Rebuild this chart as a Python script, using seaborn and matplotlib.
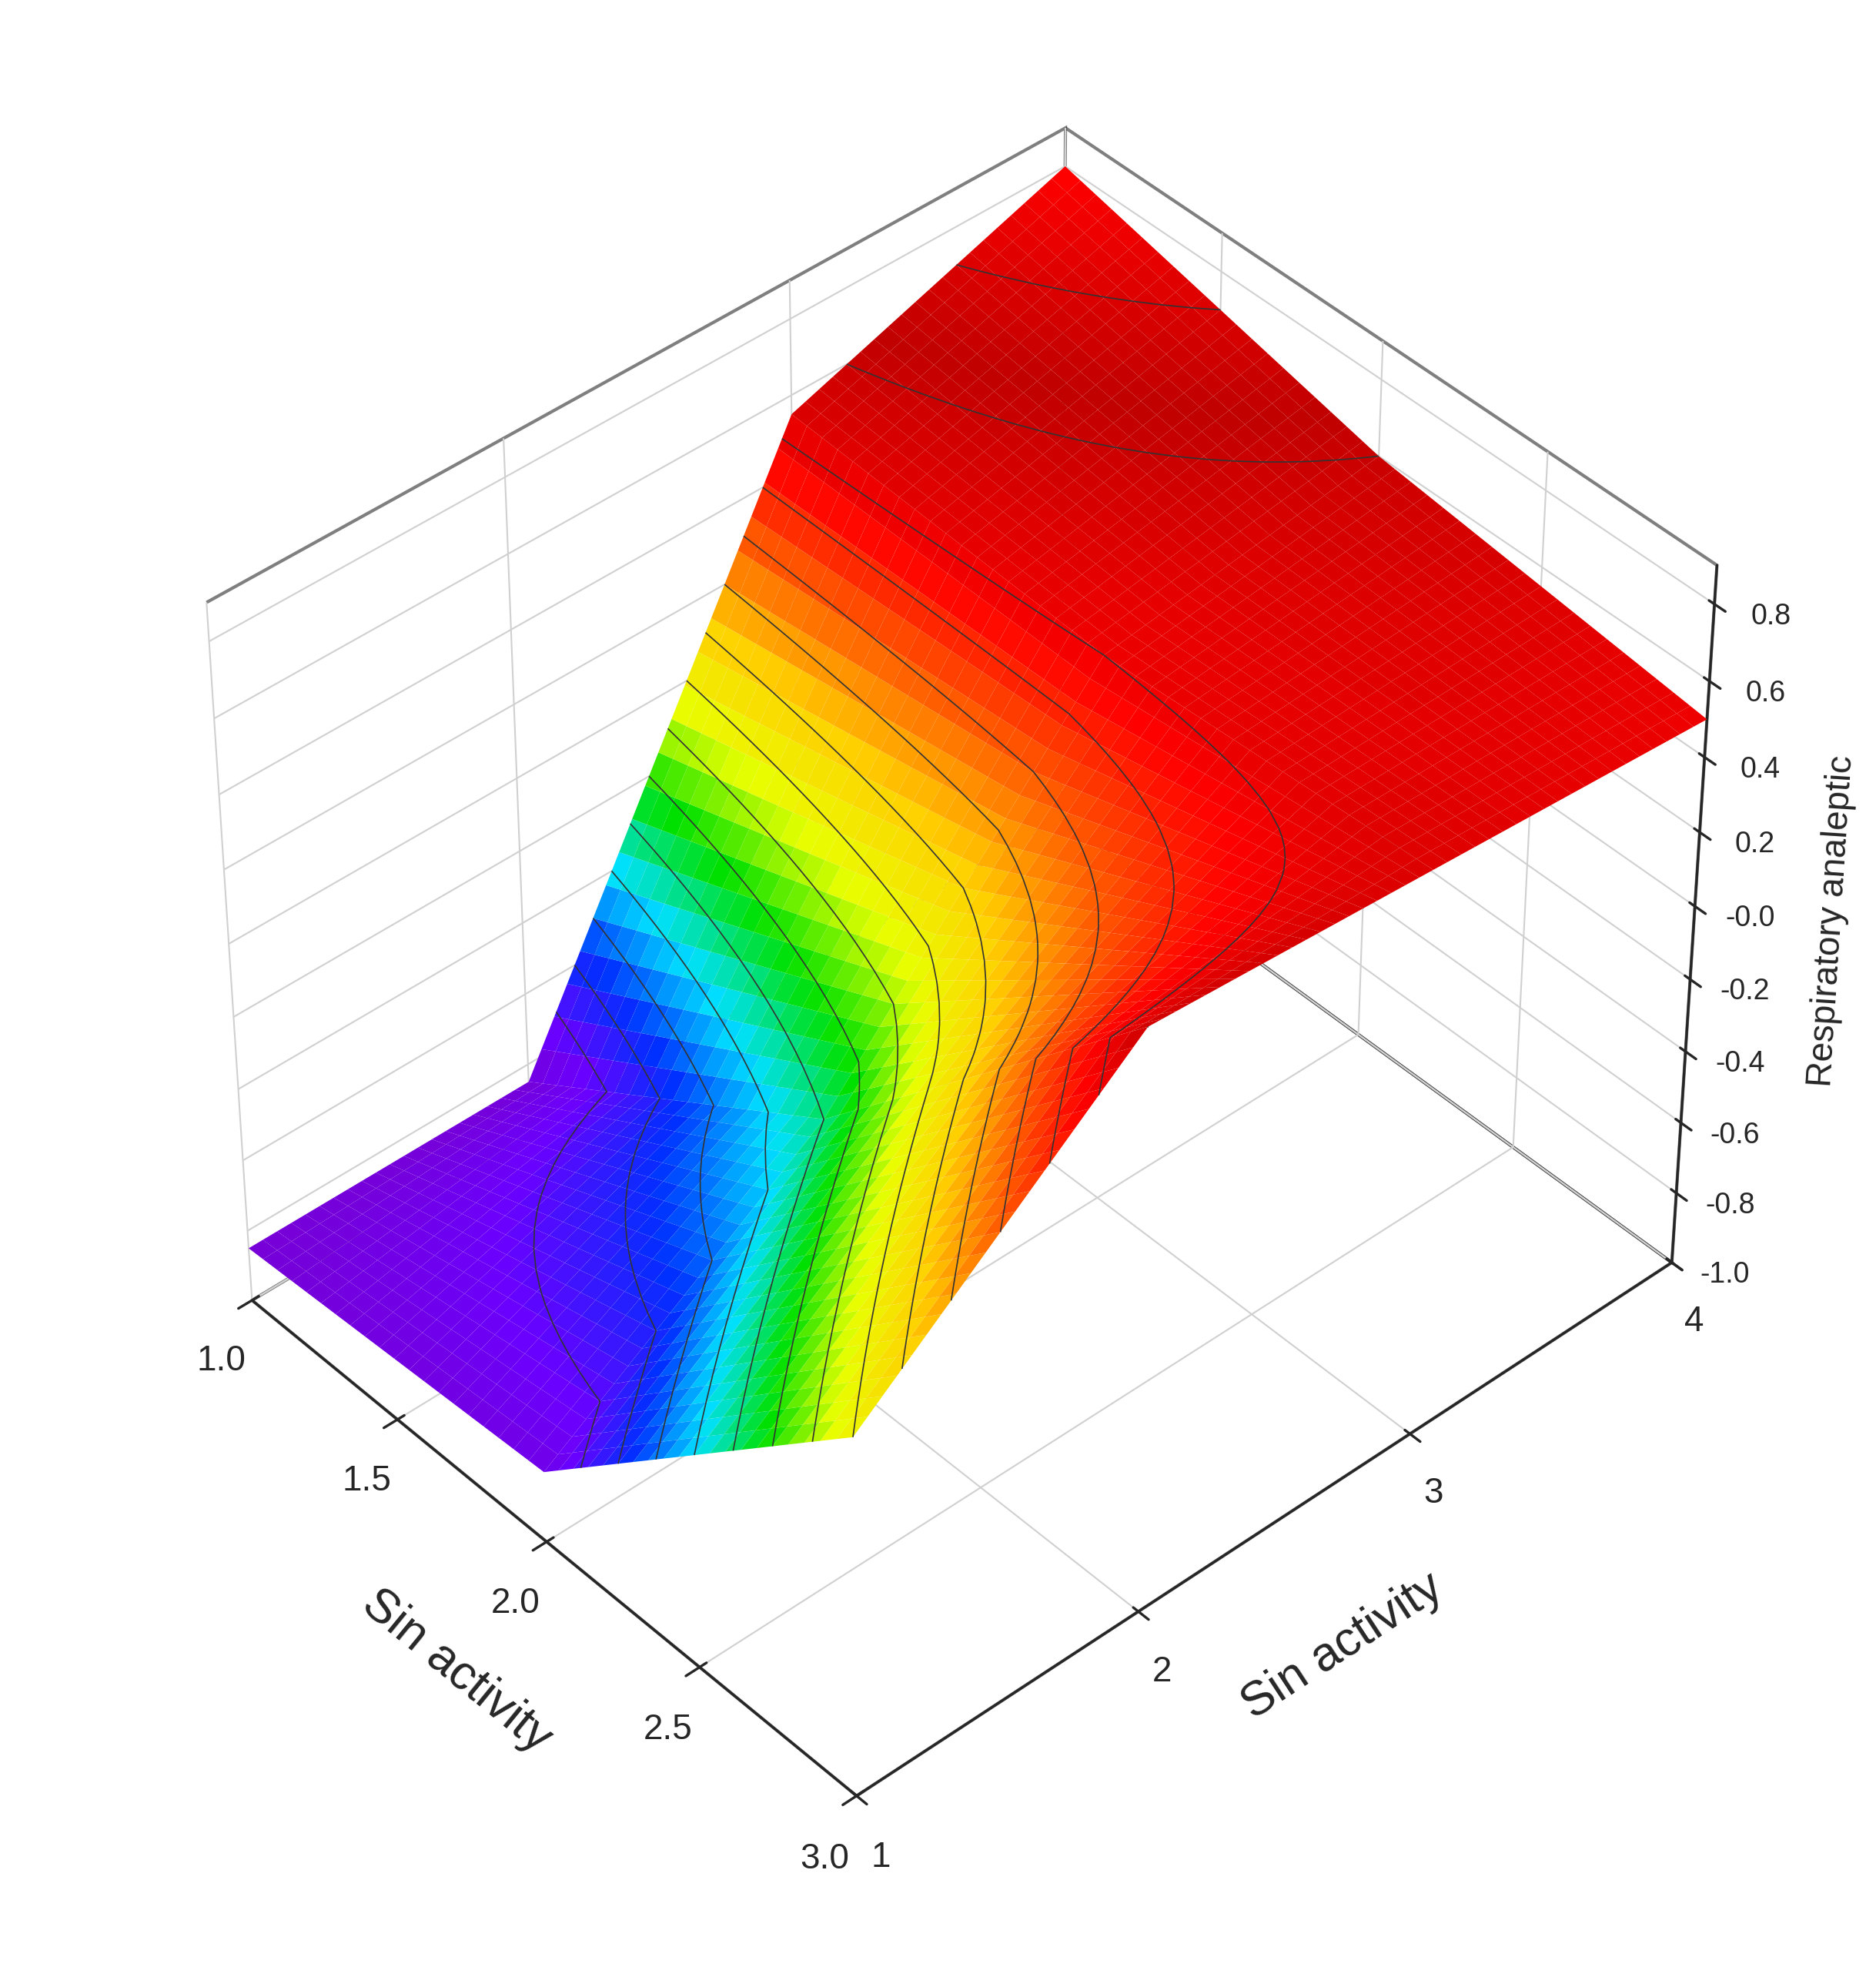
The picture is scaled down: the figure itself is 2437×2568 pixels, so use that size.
import numpy as np
import matplotlib.pyplot as plt
import seaborn as sns
from matplotlib.colors import LinearSegmentedColormap

sns.set_style("white")
plt.rcParams['font.family'] = ['Liberation Sans', 'DejaVu Sans']

# data
sin_a = [1.0, 2.0, 3.0]          # left axis
sin_b = [1, 2, 3, 4]             # right axis
resp = [[-0.85, -0.85, 0.55, 0.80],
        [-0.80, -0.30, 0.50, 0.60],
        [0.00, 0.60, 0.55, 0.50]]

xa = np.array(sin_a)
yb = np.array(sin_b, dtype=float)
Z0 = np.array(resp)

# bilinear refinement only for smooth shading
xf = np.linspace(xa.min(), xa.max(), 41)
yf = np.linspace(yb.min(), yb.max(), 61)
tmp = np.array([np.interp(xf, xa, Z0[:, j]) for j in range(len(yb))]).T
Zf = np.array([np.interp(yf, yb, tmp[i, :]) for i in range(len(xf))])
X, Y = np.meshgrid(xf, yf, indexing='ij')

cmap = LinearSegmentedColormap.from_list(
    'origin_rainbow', ['#7a00c8', '#6a00ff', '#0030ff', '#00e0ff', '#00e000',
                       '#e8ff00', '#ffd000', '#ff6000', '#ff0000', '#c00000',
                       '#ff0000'])

fig = plt.figure(figsize=(2437 / 300, 2568 / 300), dpi=300)
ax = fig.add_subplot(111, projection='3d')
ax.plot_surface(X, Y, Zf, cmap=cmap, vmin=-0.9, vmax=0.8, linewidth=0,
                antialiased=True, shade=False, rcount=41, ccount=61)
ax.contour(X, Y, Zf, levels=np.arange(-0.7, 0.8, 0.1), colors='#333333',
           linewidths=0.4, linestyles='solid')

ax.set_xlim(1.0, 3.0)
ax.set_ylim(1, 4)
ax.set_zlim(-1.0, 0.9)
ax.set_xticks([1.0, 1.5, 2.0, 2.5, 3.0])
ax.set_yticks([1, 2, 3, 4])
ax.set_zticks(np.round(np.arange(-1.0, 0.81, 0.2), 1))
ax.set_xticklabels(['1.0', '1.5', '2.0', '2.5', '3.0'], fontsize=11)
ax.set_yticklabels(['1', '2', '3', '4'], fontsize=11)
ax.set_zticklabels([f'{v:.1f}' for v in np.arange(-1.0, 0.81, 0.2)], fontsize=9)
ax.set_xlabel('Sin activity', fontsize=15, labelpad=12)
ax.set_ylabel('Sin activity', fontsize=15, labelpad=12)
ax.set_zlabel('Respiratory analeptic', fontsize=11, labelpad=8)

for a in (ax.xaxis, ax.yaxis, ax.zaxis):
    a.pane.fill = False
    a.pane.set_edgecolor('black')
    a._axinfo['grid']['color'] = '#d0d0d0'
    a._axinfo['grid']['linewidth'] = 0.5

ax.view_init(elev=42, azim=-42)
ax.set_box_aspect((1, 1.2, 1), zoom=0.9)
plt.subplots_adjust(left=0, right=1, bottom=0.02, top=1)
plt.savefig('out.png', dpi=300)
